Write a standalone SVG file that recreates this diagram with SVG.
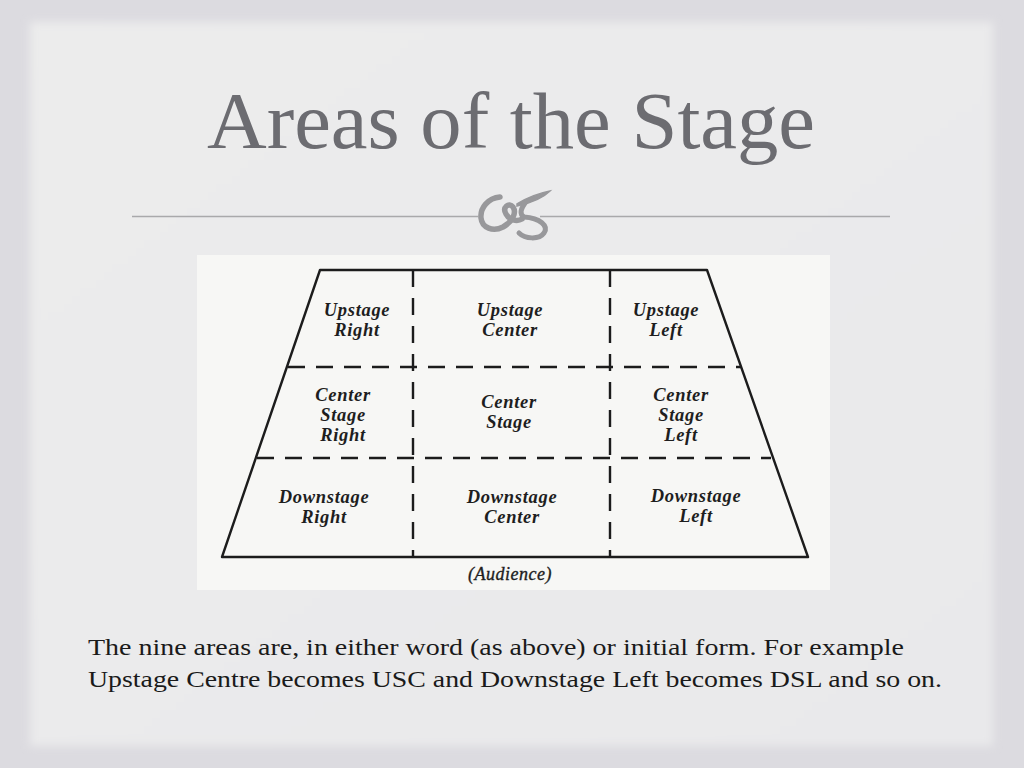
<svg xmlns="http://www.w3.org/2000/svg" width="1024" height="768" viewBox="0 0 1024 768">
<defs>
<filter id="soft" x="-5%" y="-5%" width="110%" height="110%"><feGaussianBlur stdDeviation="4"/></filter>
<linearGradient id="panel" x1="0" y1="0" x2="1" y2="1">
<stop offset="0" stop-color="#ececec"/>
<stop offset="1" stop-color="#e9e9eb"/>
</linearGradient>
</defs>
<style>
.frame{fill:none;stroke:#1c1c1c;stroke-width:2.4;stroke-linejoin:round}
.dash{fill:none;stroke:#1c1c1c;stroke-width:2.4;stroke-dasharray:17 11}
.lbl{font-family:"Liberation Serif","DejaVu Serif",serif;font-weight:bold;font-style:italic;font-size:18.5px;letter-spacing:0.7px;fill:#1e1e1e;text-anchor:middle}
.aud{font-family:"Liberation Serif","DejaVu Serif",serif;font-style:italic;font-size:18px;letter-spacing:0.5px;fill:#1e1e1e;stroke:#1e1e1e;stroke-width:0.35;text-anchor:middle}
.body{font-family:"Liberation Serif","DejaVu Serif",serif;font-size:24px;fill:#1a1a1a}
</style>
<rect x="0" y="0" width="1024" height="768" fill="#dcdbe0"/>
<rect x="30" y="22" width="963" height="724" fill="url(#panel)" filter="url(#soft)"/>

<g id="title">
<text x="511" y="148" text-anchor="middle" font-family="Liberation Serif,DejaVu Serif,serif" font-size="80" fill="#6c6c71" textLength="608" lengthAdjust="spacingAndGlyphs">Areas of the Stage</text>
</g>
<g id="separator">
<line x1="132" y1="216.5" x2="478" y2="216.5" stroke="#a9a9ab" stroke-width="1.5"/>
<line x1="540" y1="216.5" x2="890" y2="216.5" stroke="#a9a9ab" stroke-width="1.5"/>
<g id="ornament" fill="none" stroke="#98989b" stroke-linecap="round">
<path d="M500 197 C488 198 480 208 481 218 C482 228 493 232 503 227 C512 222 517 213 513 207 C509 202 502 207 506 214 C509 220 517 222 522 219" stroke-width="5.5"/>
<path d="M517 204 C528 197 540 193 550 191 C543 198 531 203 517 206 Z" fill="#98989b" stroke-width="1.5"/>
<path d="M525 203 C521 209 519 214 524 217 C540 218 549 226 544 233 C539 240 525 239 519 233" stroke-width="5"/>
</g>
</g>

<g id="stage-image">
<rect x="197" y="255" width="633" height="335" fill="#f7f7f5"/>
<g id="connectors">
<path class="frame" d="M320 270 L707 270 L808 557 L222 557 Z"/>
<line class="dash" x1="413" y1="270" x2="413" y2="557"/>
<line class="dash" x1="610" y1="270" x2="610" y2="557"/>
<line class="dash" x1="288" y1="367" x2="741" y2="367"/>
<line class="dash" x1="257" y1="458" x2="771" y2="458"/>
</g>
<g id="usr"><text class="lbl" x="357" y="316">Upstage</text><text class="lbl" x="357" y="336">Right</text></g>
<g id="usc"><text class="lbl" x="510" y="316">Upstage</text><text class="lbl" x="510" y="336">Center</text></g>
<g id="usl"><text class="lbl" x="666" y="316">Upstage</text><text class="lbl" x="666" y="336">Left</text></g>
<g id="csr"><text class="lbl" x="343" y="401">Center</text><text class="lbl" x="343" y="421">Stage</text><text class="lbl" x="343" y="441">Right</text></g>
<g id="cs"><text class="lbl" x="509" y="408">Center</text><text class="lbl" x="509" y="428">Stage</text></g>
<g id="csl"><text class="lbl" x="681" y="401">Center</text><text class="lbl" x="681" y="421">Stage</text><text class="lbl" x="681" y="441">Left</text></g>
<g id="dsr"><text class="lbl" x="324" y="503">Downstage</text><text class="lbl" x="324" y="523">Right</text></g>
<g id="dsc"><text class="lbl" x="512" y="503">Downstage</text><text class="lbl" x="512" y="523">Center</text></g>
<g id="dsl"><text class="lbl" x="696" y="502">Downstage</text><text class="lbl" x="696" y="522">Left</text></g>
<g id="audience"><text class="aud" x="510" y="580">(Audience)</text></g>
</g>

<g id="caption">
<text class="body" x="88" y="655" textLength="816" lengthAdjust="spacingAndGlyphs">The nine areas are, in either word (as above) or initial form. For example</text>
<text class="body" x="88" y="687" textLength="854" lengthAdjust="spacingAndGlyphs">Upstage Centre becomes USC and Downstage Left becomes DSL and so on.</text>
</g>
</svg>
